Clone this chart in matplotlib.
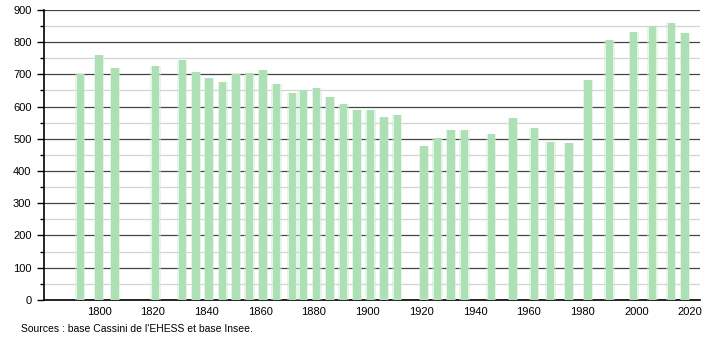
import matplotlib.pyplot as plt
from matplotlib.ticker import MultipleLocator

plt.rcParams['font.family'] = ['Liberation Sans', 'DejaVu Sans']

# Années de recensement et population
annees = [1793, 1800, 1806, 1821, 1831, 1836, 1841, 1846, 1851, 1856,
          1861, 1866, 1872, 1876, 1881, 1886, 1891, 1896, 1901, 1906,
          1911, 1921, 1926, 1931, 1936, 1946, 1954, 1962, 1968, 1975,
          1982, 1990, 1999, 2006, 2013, 2018]
population = [700, 760, 720, 725, 745, 707, 690, 675, 700, 705,
              713, 670, 642, 650, 657, 630, 607, 590, 590, 567,
              573, 477, 503, 526, 528, 515, 563, 532, 490, 488,
              683, 807, 830, 850, 858, 828]
source = "Sources : base Cassini de l'EHESS et base Insee."

fig = plt.figure(figsize=(7.1, 3.4), dpi=100)
ax = fig.add_axes([0.062, 0.118, 0.924, 0.853])

# Barres floues : halo clair puis barre pleine
ax.bar(annees, population, width=3.8, color='#cdeed2', alpha=0.5, linewidth=0, zorder=3)
ax.bar(annees, population, width=2.8, color='#ade0b5', linewidth=0, zorder=4)

ax.set_xlim(1779.5, 2023.7)
ax.set_ylim(0, 900)
ax.yaxis.set_major_locator(MultipleLocator(100))
ax.yaxis.set_minor_locator(MultipleLocator(50))
ax.set_xticks(range(1800, 2021, 20))

ax.grid(axis='y', which='major', color='#444444', linewidth=0.9, zorder=1)
ax.grid(axis='y', which='minor', color='#d3d3d3', linewidth=0.9, zorder=1)
ax.set_axisbelow(True)

for s in ['top', 'right']:
    ax.spines[s].set_visible(False)
ax.spines['left'].set_linewidth(1.2)
ax.spines['bottom'].set_linewidth(1.2)

ax.tick_params(axis='y', which='major', length=5, width=1, labelsize=8, pad=4)
ax.tick_params(axis='y', which='minor', length=3, width=1)
ax.tick_params(axis='x', length=0, labelsize=8, pad=5)

fig.text(0.029, 0.032, source, fontsize=7.5, va='center', ha='left')

fig.savefig('out.png', dpi=100)
